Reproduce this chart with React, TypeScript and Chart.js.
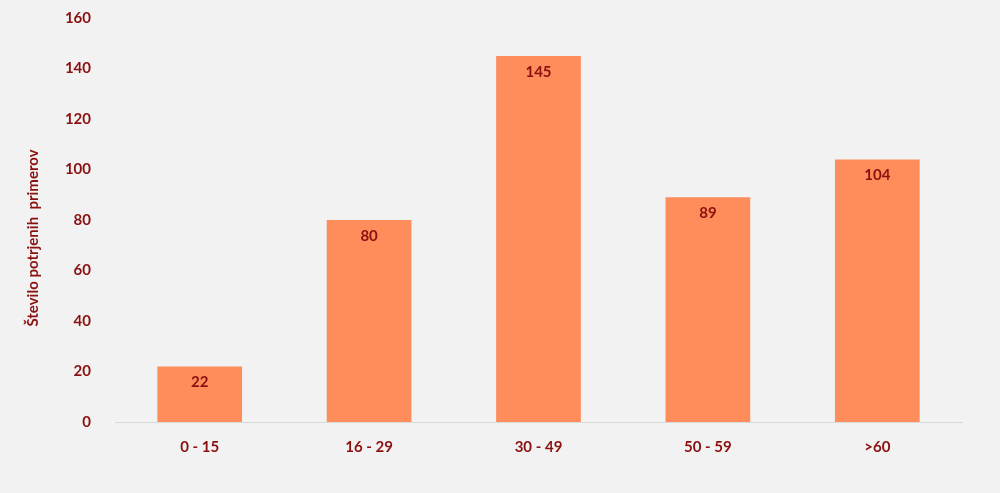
import React, { useEffect, useRef } from "react";
import { Chart, registerables } from "chart.js";

Chart.register(...registerables);

const categories = ["0 - 15", "16 - 29", "30 - 49", "50 - 59", ">60"];
const cases = [22, 80, 145, 89, 104];
const yTitle = "Število potrjenih  primerov";

const TEXT = "#8b1010";
const BAR = "#fd8d5a";
const BG = "#f2f2f2";
const FONT = "Lato, 'Open Sans', sans-serif";

const valueLabels = {
  id: "valueLabels",
  afterDatasetsDraw(chart: any) {
    const ctx = chart.ctx;
    const meta = chart.getDatasetMeta(0);
    const data = chart.data.datasets[0].data;
    ctx.save();
    ctx.font = `bold 15px ${FONT}`;
    ctx.fillStyle = TEXT;
    ctx.textAlign = "center";
    ctx.textBaseline = "middle";
    meta.data.forEach((bar: any, i: number) => {
      ctx.fillText(String(data[i]), bar.x, bar.y + 16);
    });
    ctx.restore();
  },
};

const yTitlePlugin = {
  id: "yTitle",
  afterDraw(chart: any) {
    const ctx = chart.ctx;
    ctx.save();
    ctx.translate(33, 238);
    ctx.rotate(-Math.PI / 2);
    ctx.font = `bold 15px ${FONT}`;
    ctx.fillStyle = TEXT;
    ctx.textAlign = "center";
    ctx.textBaseline = "middle";
    ctx.fillText(yTitle, 0, 0);
    ctx.restore();
  },
};

const bgPlugin = {
  id: "bg",
  beforeDraw(chart: any) {
    const ctx = chart.ctx;
    ctx.save();
    ctx.fillStyle = BG;
    ctx.fillRect(0, 0, chart.width, chart.height);
    ctx.restore();
  },
};

export default function App() {
  const ref = useRef<HTMLCanvasElement>(null);
  useEffect(() => {
    document.body.style.margin = "0";
    document.body.style.background = BG;
    const chart = new Chart(ref.current!, {
      type: "bar",
      data: {
        labels: categories,
        datasets: [
          {
            data: cases,
            backgroundColor: BAR,
            barPercentage: 0.5,
            categoryPercentage: 1,
          },
        ],
      },
      options: {
        animation: false,
        responsive: false,
        layout: { padding: { top: 18, right: 38, left: 0, bottom: 0 } },
        plugins: { legend: { display: false }, tooltip: { enabled: false } },
        scales: {
          x: {
            grid: { display: false },
            border: { display: true, color: "#d9d9d9", width: 1 },
            ticks: {
              color: TEXT,
              font: { family: FONT, size: 15, weight: "bold" },
              padding: 8,
            },
            afterFit(scale: any) {
              scale.height = 71;
            },
          },
          y: {
            min: 0,
            max: 160,
            ticks: {
              stepSize: 20,
              color: TEXT,
              font: { family: FONT, size: 15, weight: "bold" },
              padding: 16,
            },
            grid: { display: false },
            border: { display: false },
            afterFit(scale: any) {
              scale.width = 115;
              scale.paddingTop = 0;
              scale.paddingBottom = 0;
            },
          },
        },
      },
      plugins: [bgPlugin, valueLabels, yTitlePlugin],
    });
    return () => chart.destroy();
  }, []);
  return <canvas ref={ref} width={1000} height={493} style={{ display: "block" }} />;
}
